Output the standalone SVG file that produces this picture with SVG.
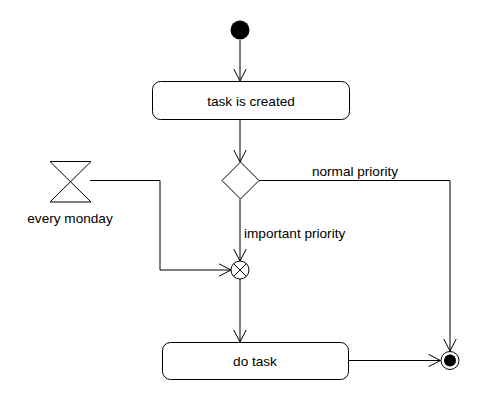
<svg xmlns="http://www.w3.org/2000/svg" width="490" height="400" viewBox="0 0 490 400">
<style>
.ln{fill:none;stroke:#000;stroke-width:1}
.box{fill:#fff;stroke:#000;stroke-width:1}
text{font-family:"Liberation Sans",Arial,sans-serif;font-size:13.6px;fill:#000}
.c{text-anchor:middle}
</style>
<defs>
<marker id="arr" viewBox="0 0 14 14" refX="12.5" refY="7" markerWidth="14" markerHeight="14" markerUnits="userSpaceOnUse" orient="auto">
<path d="M0.5,0.8 L12.5,7 L0.5,13.2" fill="none" stroke="#000" stroke-width="1"/>
</marker>
</defs>
<rect width="490" height="400" fill="#fff"/>
<g id="connectors">
<line class="ln" x1="240" y1="40" x2="240" y2="81" marker-end="url(#arr)"/>
<line class="ln" x1="240" y1="120" x2="240" y2="162" marker-end="url(#arr)"/>
<polyline class="ln" points="259,180.5 450,180.5 450,351" marker-end="url(#arr)"/>
<line class="ln" x1="240" y1="199" x2="240" y2="261" marker-end="url(#arr)"/>
<polyline class="ln" points="90,180.5 160,180.5 160,270 231,270" marker-end="url(#arr)"/>
<line class="ln" x1="240" y1="279" x2="240" y2="342" marker-end="url(#arr)"/>
<line class="ln" x1="349" y1="360.5" x2="440.5" y2="360.5" marker-end="url(#arr)"/>
<text x="355" y="176" class="c">normal priority</text>
<text x="244" y="238">important priority</text>
</g>
<g id="start"><circle cx="240" cy="30" r="9.5" fill="#000"/></g>
<g id="task-created">
<rect class="box" x="152.5" y="81.5" width="197" height="38" rx="8"/>
<text x="251" y="106" class="c">task is created</text>
</g>
<g id="decision"><polygon class="box" points="240.5,162 259,180.5 240.5,199 222,180.5"/></g>
<g id="every-monday">
<polygon class="box" points="50,161.5 91,161.5 50,202 91,202"/>
<text x="70" y="223" class="c">every monday</text>
</g>
<g id="merge">
<circle class="box" cx="240" cy="270" r="9"/>
<line class="ln" x1="233.6" y1="263.6" x2="246.4" y2="276.4"/>
<line class="ln" x1="246.4" y1="263.6" x2="233.6" y2="276.4"/>
</g>
<g id="do-task">
<rect class="box" x="162.5" y="342.5" width="186" height="37" rx="8"/>
<text x="255" y="366" class="c">do task</text>
</g>
<g id="end">
<circle class="box" cx="450" cy="360.5" r="9"/>
<circle cx="450" cy="360.5" r="6" fill="#000"/>
</g>
</svg>
